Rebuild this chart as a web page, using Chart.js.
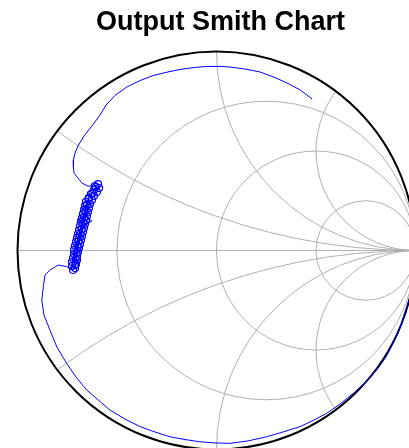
<!DOCTYPE html>
<html>
<head>
<meta charset="utf-8">
<script src="https://cdn.jsdelivr.net/npm/chart.js@4"></script>
<style>
html, body { margin: 0; padding: 0; background: #fff; }
#wrap { width: 409px; height: 448px; position: relative; }
</style>
</head>
<body>
<div id="wrap"><canvas id="smithChart"></canvas></div>
<script>
// grid values of the chart (normalised impedance)
var resistanceValues = [1 / 3, 1, 3];
var reactanceValues = [1 / 3, 1, 2];

// reflection coefficient trace, real and imaginary part
var traceRe = [0.481, 0.420, 0.354, 0.294, 0.219, 0.143, 0.068, 0.018, -0.048, -0.108,
    -0.183, -0.259, -0.319, -0.384, -0.450, -0.510, -0.555, -0.585, -0.626, -0.666,
    -0.696, -0.711, -0.719, -0.719, -0.716, -0.696, -0.676, -0.646, -0.616,
    -0.601, -0.616, -0.631, -0.646, -0.651, -0.658, -0.663, -0.626, -0.666, -0.701,
    -0.663, -0.671, -0.678, -0.686, -0.693, -0.701, -0.706, -0.711, -0.720,
    -0.753, -0.795, -0.837, -0.862, -0.870, -0.878, -0.867, -0.837, -0.802, -0.753,
    -0.706, -0.652, -0.595, -0.535, -0.460, -0.384, -0.309, -0.234, -0.158, -0.083,
    -0.008, 0.068, 0.158, 0.252, 0.334, 0.420, 0.490, 0.554, 0.621, 0.687,
    0.751, 0.805, 0.852, 0.888, 0.917, 0.935, 0.950, 0.965];
var traceIm = [0.761, 0.807, 0.842, 0.869, 0.897, 0.912, 0.922, 0.925, 0.925, 0.920,
    0.910, 0.894, 0.879, 0.854, 0.822, 0.779, 0.731, 0.681, 0.626, 0.575,
    0.525, 0.490, 0.455, 0.420, 0.389, 0.364, 0.339, 0.324, 0.324,
    0.329, 0.304, 0.279, 0.254, 0.229, 0.204, 0.178, 0.148, 0.123, 0.153,
    0.178, 0.143, 0.103, 0.073, 0.043, 0.003, -0.038, -0.073, -0.098,
    -0.081, -0.073, -0.098, -0.123, -0.182, -0.249, -0.324, -0.400, -0.485, -0.567,
    -0.636, -0.701, -0.751, -0.802, -0.847, -0.885, -0.912, -0.936, -0.950, -0.961,
    -0.967, -0.969, -0.957, -0.936, -0.912, -0.885, -0.852, -0.818, -0.771, -0.718,
    -0.661, -0.601, -0.535, -0.466, -0.405, -0.350, -0.300, -0.255];

// marked points (circles)
var markerRe = [-0.595, -0.611, -0.590, -0.616, -0.601, -0.631, -0.616, -0.641, -0.626, -0.656,
    -0.636, -0.661, -0.641, -0.666, -0.646, -0.671, -0.651, -0.676, -0.656, -0.681,
    -0.661, -0.686, -0.666, -0.691, -0.671, -0.696, -0.676, -0.701, -0.681, -0.706,
    -0.686, -0.711, -0.691, -0.716, -0.696, -0.716, -0.701, -0.721, -0.701, -0.726,
    -0.706, -0.726, -0.711, -0.721,
    -0.606, -0.623, -0.643, -0.651, -0.658, -0.664, -0.670, -0.677, -0.686, -0.693,
    -0.698, -0.703, -0.707, -0.710];
var markerIm = [0.334, 0.324, 0.314, 0.304, 0.294, 0.284, 0.274, 0.264, 0.254, 0.244,
    0.234, 0.224, 0.214, 0.204, 0.193, 0.183, 0.173, 0.163, 0.153, 0.143,
    0.133, 0.123, 0.113, 0.103, 0.093, 0.083, 0.073, 0.063, 0.053, 0.043,
    0.033, 0.023, 0.013, 0.003, -0.008, -0.018, -0.028, -0.038, -0.048, -0.058,
    -0.068, -0.078, -0.088, -0.098,
    0.319, 0.289, 0.259, 0.229, 0.198, 0.168, 0.138, 0.108, 0.078, 0.048,
    0.018, -0.013, -0.043, -0.073];

function toPoints(re, im) {
    return re.map(function (v, i) { return { x: v, y: im[i] }; });
}

var smithGrid = {
    id: "smithGrid",
    beforeDatasetsDraw: function (chart) {
        var ctx = chart.ctx;
        var xs = chart.scales.x, ys = chart.scales.y;
        var px = function (v) { return xs.getPixelForValue(v); };
        var py = function (v) { return ys.getPixelForValue(v); };
        var unit = px(1) - px(0);

        ctx.save();
        ctx.beginPath();
        ctx.arc(px(0), py(0), unit, 0, Math.PI * 2);
        ctx.clip();
        ctx.strokeStyle = "#b0b0b0";
        ctx.lineWidth = 1;
        ctx.beginPath();
        ctx.moveTo(px(-1), py(0));
        ctx.lineTo(px(1), py(0));
        ctx.stroke();
        resistanceValues.forEach(function (r) {
            ctx.beginPath();
            ctx.arc(px(r / (1 + r)), py(0), unit / (1 + r), 0, Math.PI * 2);
            ctx.stroke();
        });
        reactanceValues.forEach(function (xv) {
            [1, -1].forEach(function (s) {
                ctx.beginPath();
                ctx.arc(px(1), py(s / xv), unit / xv, 0, Math.PI * 2);
                ctx.stroke();
            });
        });
        ctx.restore();

        ctx.save();
        ctx.strokeStyle = "#000";
        ctx.lineWidth = 2;
        ctx.beginPath();
        ctx.arc(px(0), py(0), unit, 0, Math.PI * 2);
        ctx.stroke();
        ctx.restore();
    }
};

var ctx = document.getElementById("smithChart").getContext("2d");
var myChart = new Chart(ctx, {
    type: "scatter",
    data: {
        datasets: [
            {
                label: "trace",
                data: toPoints(traceRe, traceIm),
                showLine: true,
                borderColor: "#0000ff",
                borderWidth: 1,
                pointRadius: 0,
                tension: 0,
                clip: false,
            },
            {
                label: "markers",
                data: toPoints(markerRe, markerIm),
                showLine: false,
                borderColor: "#0000ff",
                backgroundColor: "rgba(0,0,0,0)",
                borderWidth: 1.2,
                pointRadius: 3.5,
                clip: false,
            },
        ],
    },
    options: {
        responsive: true,
        maintainAspectRatio: false,
        animation: false,
        devicePixelRatio: 1,
        layout: {
            autoPadding: false,
            padding: { left: 32, right: 0, top: 0, bottom: 0 },
        },
        plugins: {
            legend: { display: false },
            tooltip: { enabled: false },
            title: {
                display: true,
                text: "Output Smith Chart",
                color: "#000",
                font: { family: "'Liberation Sans', Arial, sans-serif", size: 27, weight: "bold", lineHeight: 1.2 },
                padding: { top: 6.4, bottom: 12.7 },
            },
        },
        scales: {
            x: { type: "linear", display: false, min: -0.92714, max: 0.96734 },
            y: { type: "linear", display: false, min: -0.99246, max: 1 },
        },
    },
    plugins: [smithGrid],
});
</script>
</body>
</html>
